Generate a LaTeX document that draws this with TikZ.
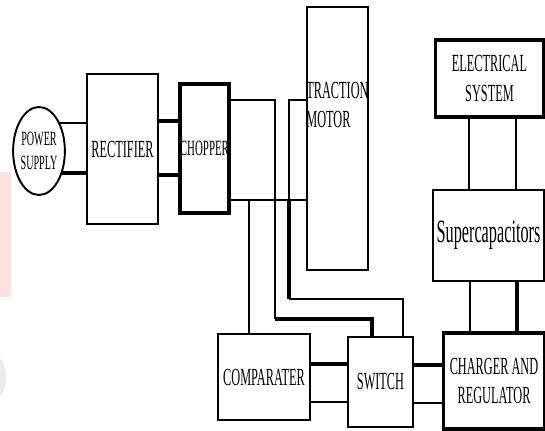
\documentclass[tikz,border=0pt]{standalone}
\usepackage{fontspec}
\newfontfamily\lblfont[FakeStretch=0.5]{Liberation Serif}
\usetikzlibrary{shapes.geometric,backgrounds}
\tikzset{
  box/.style={draw, line width=1.1pt, fill=white, inner sep=0pt, align=center,
    font=\lblfont\fontsize{14}{17}\selectfont},
  thickbox/.style={box, line width=1.8pt},
  lbl/.style={inner sep=0pt, align=left, font=\lblfont\fontsize{14}{17}\selectfont},
  wire/.style={line width=0.9pt},
  midwire/.style={line width=1.3pt},
  heavy/.style={line width=1.9pt},
}
\begin{document}
\begin{tikzpicture}[x=0.02cm,y=-0.02cm]
  \useasboundingbox (0,0) rectangle (545,431);
  % faint marks at the left edge
  \fill[red!12] (0,172) rectangle (11,297);
  \fill[gray!15] (0,358) .. controls (8,364) and (8,390) .. (0,397) -- cycle;

  % Left: supply, rectifier, chopper
  \node[box, ellipse, minimum width=0.96cm, minimum height=1.76cm,
        font=\lblfont\fontsize{11.5}{14}\selectfont] (ps) at (39,151) {POWER\\SUPPLY};
  \node[box, minimum width=1.42cm, minimum height=3.0cm] (rect) at (122.5,149) {RECTIFIER};
  \node[thickbox, minimum width=0.98cm, minimum height=2.58cm,
        font=\lblfont\fontsize{12.4}{15}\selectfont] (chop) at (204.5,148.5) {CHOPPER};

  % Middle: motor and control
  \node[box, minimum width=1.22cm, minimum height=5.26cm] (motor) at (337.5,138.5) {};
  \node[lbl, anchor=west] (motortxt) at (motor.west |- 0,105) {TRACTION\\MOTOR};
  \node[box, minimum width=1.84cm, minimum height=1.72cm] (comp) at (264,377) {COMPARATER};
  \node[box, minimum width=1.3cm, minimum height=1.8cm] (swch) at (380.5,382) {SWITCH};

  % Right: storage side
  \node[thickbox, minimum width=2.16cm, minimum height=1.54cm] (elec) at (489.5,78.5) {ELECTRICAL\\SYSTEM};
  \node[box, minimum width=2.22cm, minimum height=1.82cm,
        font=\lblfont\fontsize{18.5}{22}\selectfont] (supc) at (488.5,235.5) {Supercapacitors};
  \node[thickbox, minimum width=2.02cm, minimum height=1.92cm] (chrg) at (494,381) {CHARGER AND\\REGULATOR};

  % supply side wires
  \begin{scope}[on background layer]
    \draw[wire] (ps.center |- 0,123) -- (rect.west |- 0,123);
    \draw[heavy] (ps.center |- 0,173) -- (rect.west |- 0,173);
  \end{scope}
  \draw[heavy] (rect.east |- 0,121) -- (chop.west |- 0,121);
  \draw[heavy] (rect.east |- 0,175) -- (chop.west |- 0,175);

  % chopper / motor to switch
  \draw[wire] (chop.east |- 0,100) -- (275,100) -- (275,319);
  \draw[heavy] (275,319) -- (372,319) -- (swch.north -| 372,0);
  \draw[wire] (motor.west |- 0,100) -- (289,100) -- (289,200);
  \draw[heavy] (289,200) -- (289,299);
  \draw[midwire] (289,299) -- (403,299) -- (swch.north -| 403,0);
  \draw[wire] (chop.east |- 0,200) -- (motor.west |- 0,200);
  \draw[wire] (249,200) -- (comp.north -| 249,0);

  % comparater, switch, charger
  \draw[heavy] (comp.east |- 0,364) -- (swch.west |- 0,364);
  \draw[wire] (comp.east |- 0,402) -- (swch.west |- 0,402);
  \draw[heavy] (swch.east |- 0,365) -- (chrg.west |- 0,365);
  \draw[wire] (swch.east |- 0,403) -- (chrg.west |- 0,403);

  % storage links
  \draw[wire] (elec.south -| 469,0) -- (supc.north -| 469,0);
  \draw[wire] (elec.south -| 516,0) -- (supc.north -| 516,0);
  \draw[wire] (supc.south -| 470,0) -- (chrg.north -| 470,0);
  \draw[heavy] (supc.south -| 517,0) -- (chrg.north -| 517,0);
\end{tikzpicture}
\end{document}
